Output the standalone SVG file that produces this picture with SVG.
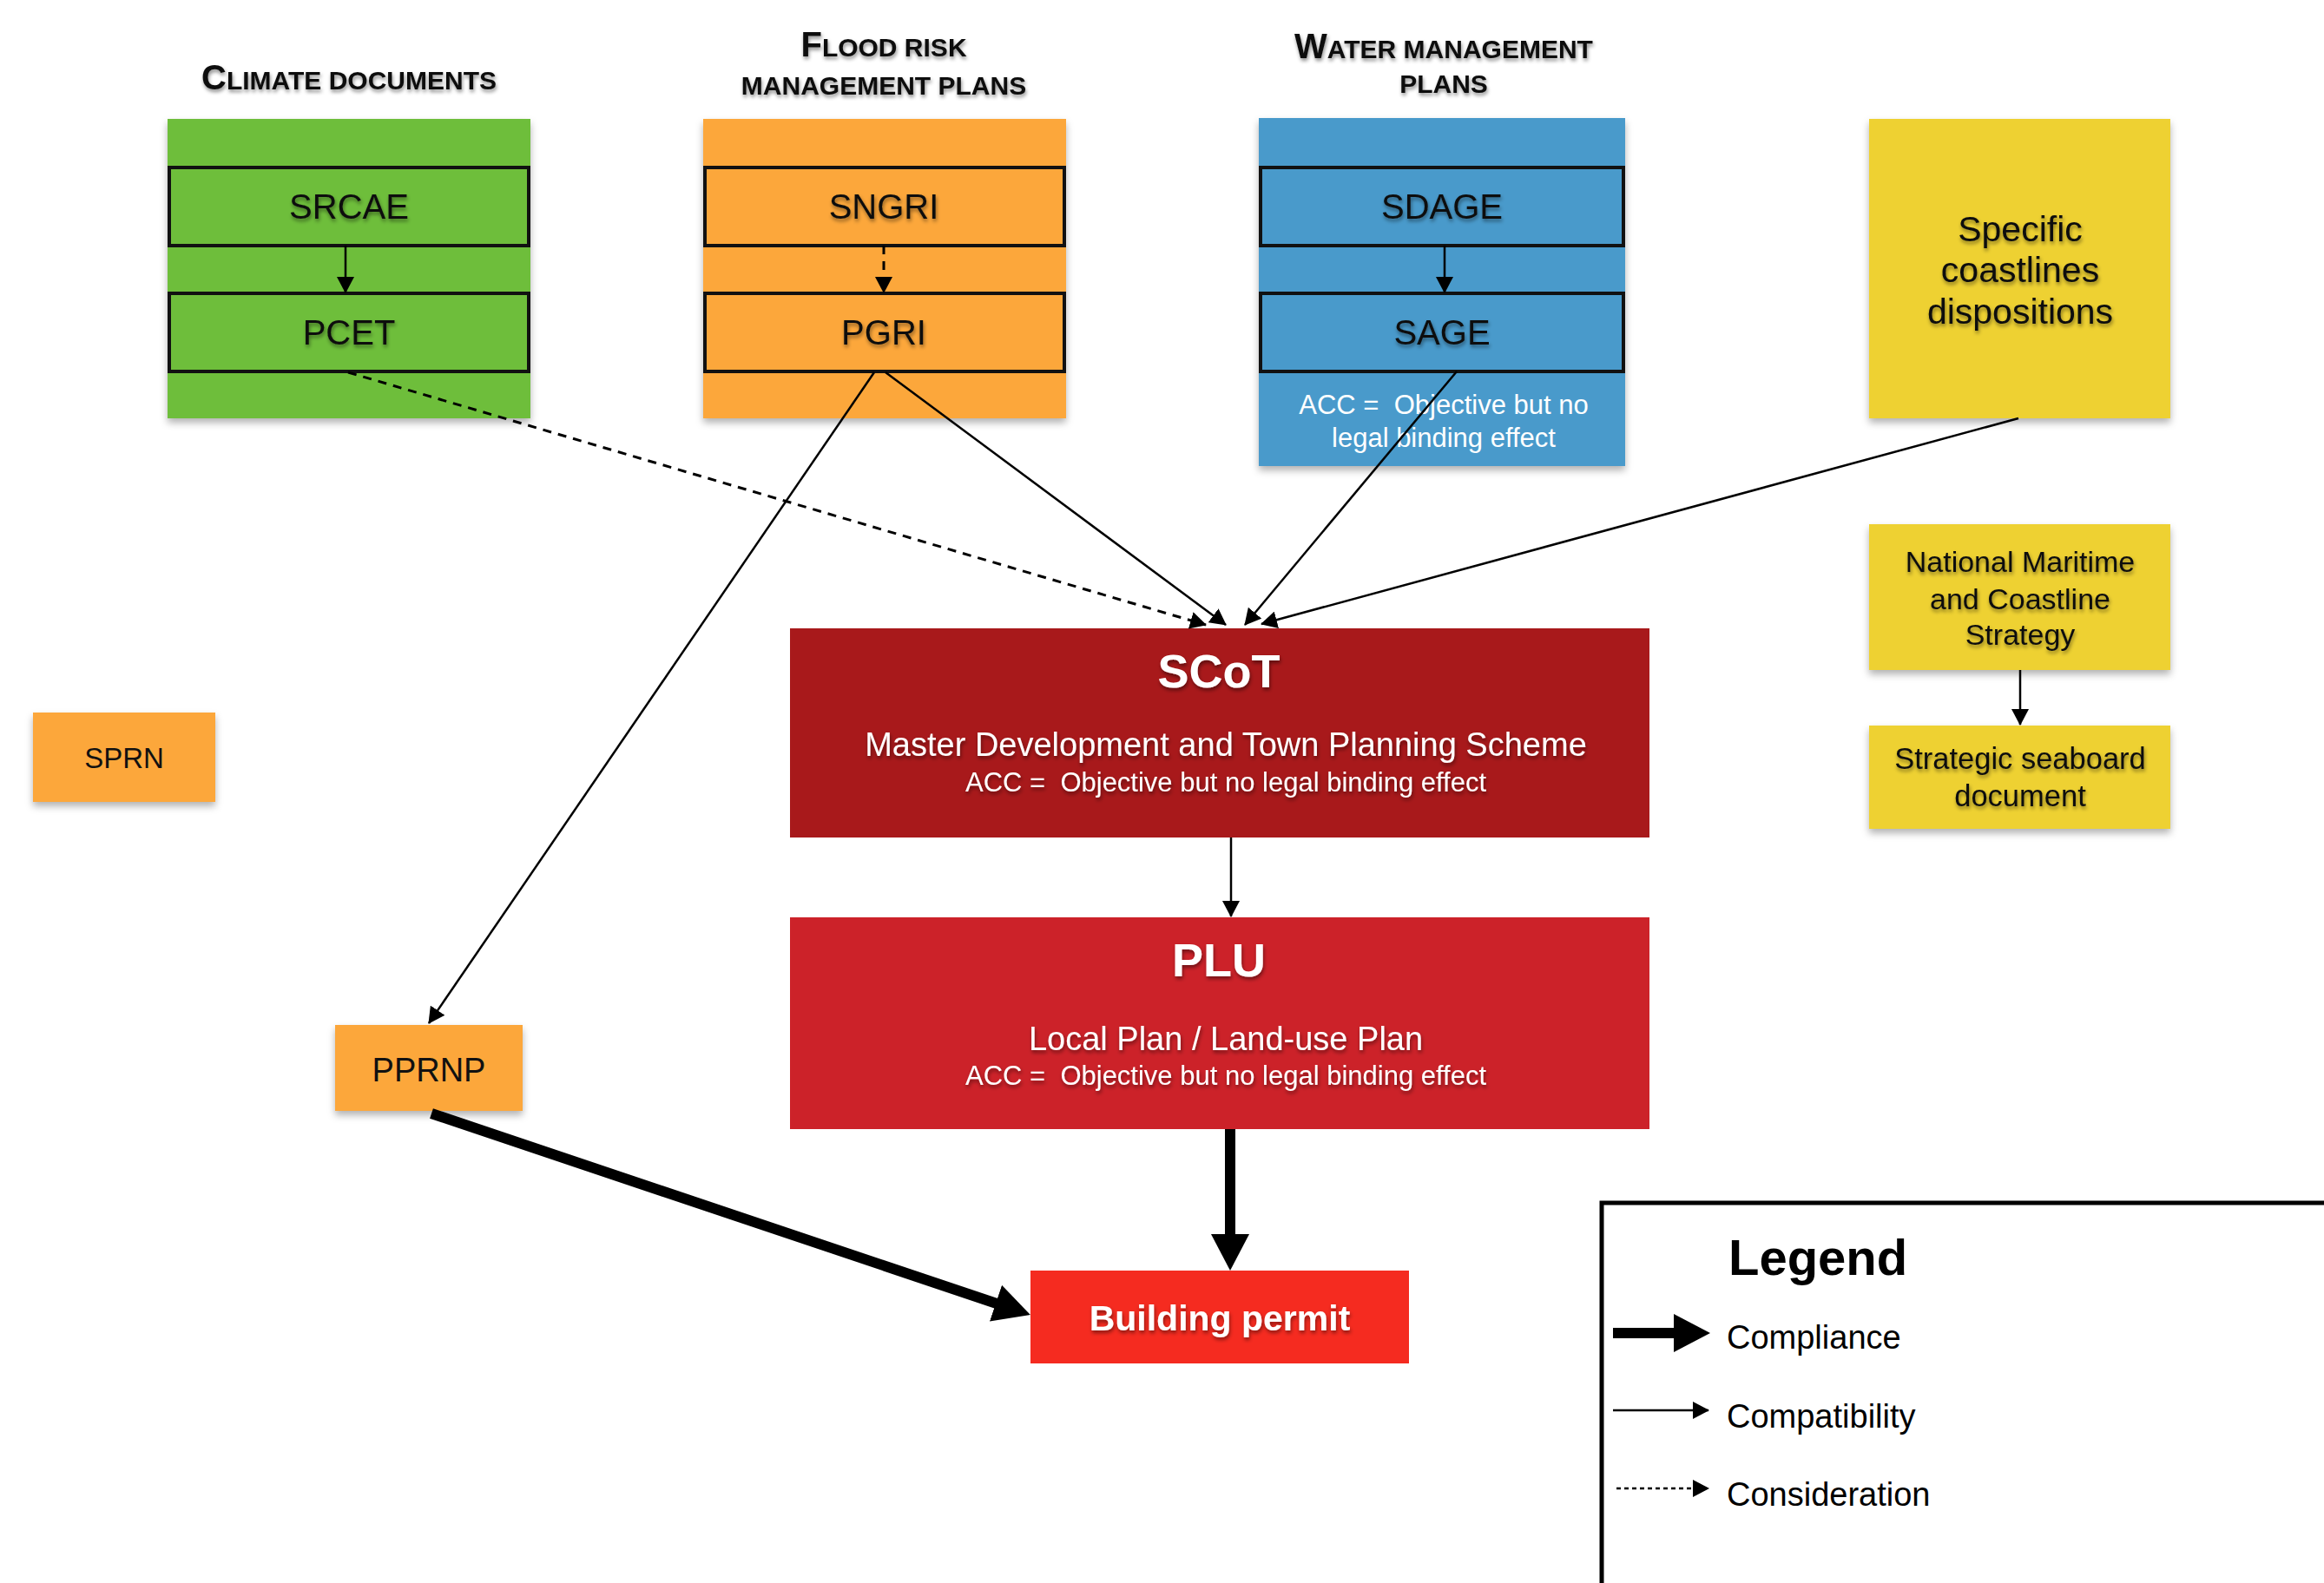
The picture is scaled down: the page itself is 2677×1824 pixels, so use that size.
<svg xmlns="http://www.w3.org/2000/svg" width="2677" height="1824" viewBox="0 0 2677 1824" font-family="'Liberation Sans', Arial, Helvetica, sans-serif">
<defs>
<style>
text{font-family:"Liberation Sans",Arial,Helvetica,sans-serif;text-anchor:middle}
.ttl{font-weight:bold;fill:#111}
.inner{fill:none;stroke:#111;stroke-width:4}
.lbl{font-size:40px;fill:#111}
.wt{fill:#fff;white-space:pre}
.thin{stroke:#000;stroke-width:2.5;fill:none}
.dash{stroke:#000;stroke-width:3;fill:none;stroke-dasharray:10 8}
.thick{stroke:#000;stroke-width:12;fill:none}
</style>
<filter id="sh" x="-10%" y="-10%" width="120%" height="130%"><feDropShadow dx="0" dy="5" stdDeviation="4" flood-color="#000" flood-opacity="0.3"/></filter>
<filter id="ts" x="-10%" y="-20%" width="120%" height="150%"><feDropShadow dx="1" dy="3" stdDeviation="2" flood-color="#000" flood-opacity="0.45"/></filter>
<marker id="ah" markerUnits="userSpaceOnUse" markerWidth="19" markerHeight="20" viewBox="0 0 19 20" refX="18" refY="10" orient="auto"><path d="M0,0 L19,10 L0,20 z" fill="#000"/></marker>
<marker id="ahk" markerUnits="userSpaceOnUse" markerWidth="42" markerHeight="44" viewBox="0 0 42 44" refX="1" refY="22" orient="auto"><path d="M0,0 L42,22 L0,44 z" fill="#000"/></marker>
</defs>
<rect width="2677" height="1824" fill="#fff"/>

<g id="climate">
<text class="ttl" x="402" y="103" filter="url(#ts)"><tspan font-size="40">C</tspan><tspan font-size="30">LIMATE DOCUMENTS</tspan></text>
<rect x="193" y="137" width="418" height="345" fill="#6ebe3a" filter="url(#sh)"/>
<g id="srcae"><rect class="inner" x="195" y="193" width="414" height="90"/><text class="lbl" x="402" y="252" filter="url(#ts)">SRCAE</text></g>
<g id="pcet"><rect class="inner" x="195" y="338" width="414" height="90"/><text class="lbl" x="402" y="397" filter="url(#ts)">PCET</text></g>
</g>

<g id="flood">
<text class="ttl" x="1018" y="65" filter="url(#ts)"><tspan font-size="40">F</tspan><tspan font-size="30">LOOD RISK</tspan></text>
<text class="ttl" x="1018" y="109" font-size="30" filter="url(#ts)">MANAGEMENT PLANS</text>
<rect x="810" y="137" width="418" height="345" fill="#fca73b" filter="url(#sh)"/>
<g id="sngri"><rect class="inner" x="812" y="193" width="414" height="90"/><text class="lbl" x="1018" y="252" filter="url(#ts)">SNGRI</text></g>
<g id="pgri"><rect class="inner" x="812" y="338" width="414" height="90"/><text class="lbl" x="1018" y="397" filter="url(#ts)">PGRI</text></g>
</g>

<g id="water">
<text class="ttl" x="1663" y="67" filter="url(#ts)"><tspan font-size="40">W</tspan><tspan font-size="30">ATER MANAGEMENT</tspan></text>
<text class="ttl" x="1663" y="107" font-size="30" filter="url(#ts)">PLANS</text>
<rect x="1450" y="136" width="422" height="401" fill="#4a9acb" filter="url(#sh)"/>
<g id="sdage"><rect class="inner" x="1452" y="193" width="418" height="90"/><text class="lbl" x="1661" y="252" filter="url(#ts)">SDAGE</text></g>
<g id="sage"><rect class="inner" x="1452" y="338" width="418" height="90"/><text class="lbl" x="1661" y="397" filter="url(#ts)">SAGE</text></g>
<text class="wt" x="1663" y="477" font-size="31" xml:space="preserve">ACC =  Objective but no</text>
<text class="wt" x="1663" y="515" font-size="31">legal binding effect</text>
</g>

<g id="specific">
<rect x="2153" y="137" width="347" height="345" fill="#eed133" filter="url(#sh)"/>
<text x="2327" y="278" font-size="41" fill="#111" filter="url(#ts)">Specific</text>
<text x="2327" y="325" font-size="41" fill="#111" filter="url(#ts)">coastlines</text>
<text x="2327" y="373" font-size="41" fill="#111" filter="url(#ts)">dispositions</text>
</g>

<g id="national">
<rect x="2153" y="604" width="347" height="168" fill="#eed133" filter="url(#sh)"/>
<text x="2327" y="659" font-size="34" fill="#111" filter="url(#ts)">National Maritime</text>
<text x="2327" y="702" font-size="34" fill="#111" filter="url(#ts)">and Coastline</text>
<text x="2327" y="743" font-size="34" fill="#111" filter="url(#ts)">Strategy</text>
</g>

<g id="seaboard">
<rect x="2153" y="836" width="347" height="119" fill="#eed133" filter="url(#sh)"/>
<text x="2327" y="886" font-size="34.5" fill="#111" filter="url(#ts)">Strategic seaboard</text>
<text x="2327" y="929" font-size="34.5" fill="#111" filter="url(#ts)">document</text>
</g>

<g id="sprn">
<rect x="38" y="821" width="210" height="103" fill="#fca73b" filter="url(#sh)"/>
<text x="143" y="885" font-size="33" fill="#111">SPRN</text>
</g>

<g id="pprnp">
<rect x="386" y="1181" width="216" height="99" fill="#fca73b" filter="url(#sh)"/>
<text x="494" y="1246" font-size="38" fill="#111">PPRNP</text>
</g>

<g id="scot">
<rect x="910" y="724" width="990" height="241" fill="#a8191b"/>
<text class="wt" x="1404" y="792" font-size="54" font-weight="bold" filter="url(#ts)">SCoT</text>
<text class="wt" x="1412" y="871" font-size="38" filter="url(#ts)">Master Development and Town Planning Scheme</text>
<text class="wt" x="1412" y="912" font-size="31" filter="url(#ts)" xml:space="preserve">ACC =  Objective but no legal binding effect</text>
</g>

<g id="plu">
<rect x="910" y="1057" width="990" height="244" fill="#cc2229"/>
<text class="wt" x="1404" y="1125" font-size="54" font-weight="bold" filter="url(#ts)">PLU</text>
<text class="wt" x="1412" y="1210" font-size="38" filter="url(#ts)">Local Plan / Land-use Plan</text>
<text class="wt" x="1412" y="1250" font-size="31" filter="url(#ts)" xml:space="preserve">ACC =  Objective but no legal binding effect</text>
</g>

<g id="permit">
<rect x="1187" y="1464" width="436" height="107" fill="#f52b20"/>
<text class="wt" x="1405" y="1533" font-size="41" font-weight="bold" filter="url(#ts)">Building permit</text>
</g>

<g id="connectors">
<line class="thin" x1="398" y1="283" x2="398" y2="337" marker-end="url(#ah)"/>
<line class="dash" x1="1018" y1="283" x2="1018" y2="337" stroke-dasharray="7 6" marker-end="url(#ah)"/>
<line class="thin" x1="1664" y1="283" x2="1664" y2="337" marker-end="url(#ah)"/>
<line class="dash" x1="401" y1="429" x2="1389" y2="720" marker-end="url(#ah)"/>
<line class="thin" x1="1020" y1="429" x2="1412" y2="720" marker-end="url(#ah)"/>
<line class="thin" x1="1007" y1="429" x2="494" y2="1179" marker-end="url(#ah)"/>
<line class="thin" x1="1678" y1="428" x2="1434" y2="720" marker-end="url(#ah)"/>
<line class="thin" x1="2325" y1="482" x2="1453" y2="719" marker-end="url(#ah)"/>
<line class="thin" x1="2327" y1="772" x2="2327" y2="835" marker-end="url(#ah)"/>
<line class="thin" x1="1418" y1="965" x2="1418" y2="1056" marker-end="url(#ah)"/>
<line class="thick" x1="1417" y1="1301" x2="1417" y2="1423" marker-end="url(#ahk)"/>
<line class="thick" x1="497" y1="1283" x2="1148" y2="1502" marker-end="url(#ahk)"/>
</g>

<g id="legend">
<path d="M1845,1824 V1386 H2677" fill="none" stroke="#000" stroke-width="5"/>
<text x="1991" y="1469" font-size="58" font-weight="bold" fill="#000" style="text-anchor:start">Legend</text>
<line class="thick" x1="1858" y1="1536" x2="1929" y2="1536" marker-end="url(#ahk)"/>
<text x="1989" y="1554" font-size="38" fill="#000" style="text-anchor:start">Compliance</text>
<line class="thin" x1="1858" y1="1625" x2="1968" y2="1625" marker-end="url(#ah)"/>
<text x="1989" y="1645" font-size="38" fill="#000" style="text-anchor:start">Compatibility</text>
<line x1="1862" y1="1715" x2="1968" y2="1715" stroke="#000" stroke-width="2.5" stroke-dasharray="5 4" marker-end="url(#ah)"/>
<text x="1989" y="1735" font-size="38" fill="#000" style="text-anchor:start">Consideration</text>
</g>
</svg>
